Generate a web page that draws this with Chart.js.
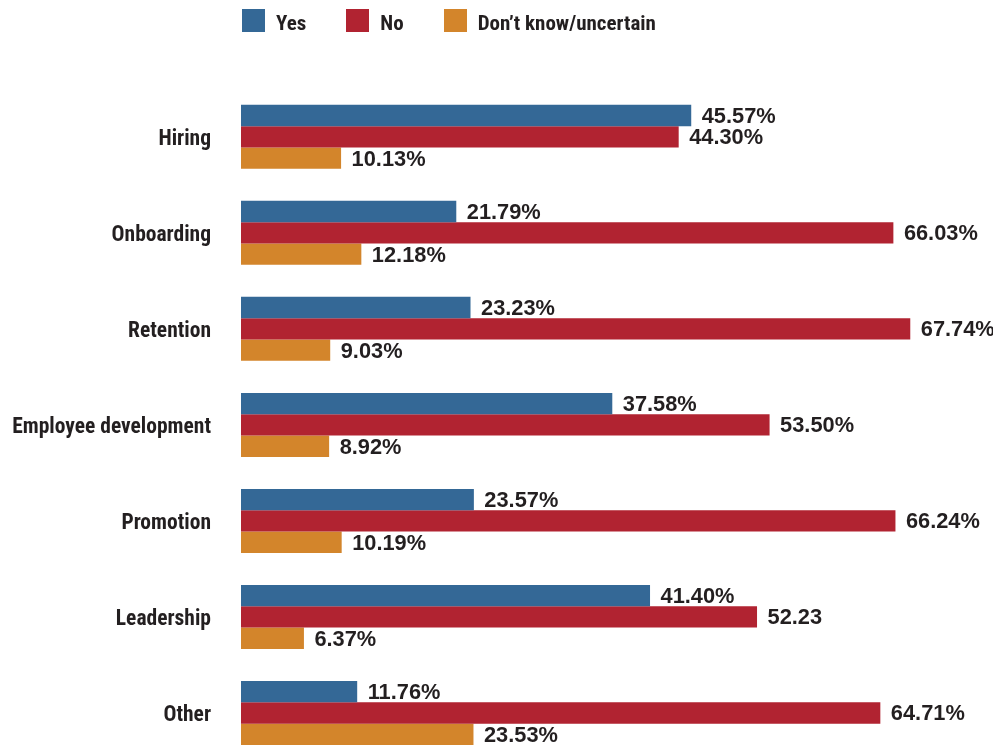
<!DOCTYPE html>
<html>
<head>
<meta charset="utf-8">
<script src="https://cdn.jsdelivr.net/npm/chart.js@4.4.0/dist/chart.umd.min.js"></script>
<style>
  html, body { margin: 0; padding: 0; background: #ffffff; overflow: hidden; width: 993px; height: 745px; }
  #wrap { position: relative; width: 993px; height: 745px; overflow: hidden; }
  #legend { position: absolute; left: 242px; top: 9px; display: flex; align-items: flex-start;
    font-family: 'Roboto Condensed', 'Roboto', sans-serif; font-weight: bold;
    font-size: 21px; color: #231f20; line-height: 1; }
  .item { display: flex; align-items: flex-end; margin-right: 40px; }
  .box { width: 23px; height: 23px; margin-right: 11px; }
  .lbl { position: relative; top: 2px; white-space: nowrap; }
  canvas { position: absolute; left: 0; top: 0; }
</style>
</head>
<body>
<div id="wrap">
  <canvas id="c" width="993" height="761"></canvas>
  <div id="legend"></div>
</div>
<script>
const categories = ['Hiring', 'Onboarding', 'Retention', 'Employee development', 'Promotion', 'Leadership', 'Other'];
const seriesNames = ['Yes', 'No', 'Don\u2019t know/uncertain'];
const yesValues = [45.57, 21.79, 23.23, 37.58, 23.57, 41.40, 11.76];
const noValues = [44.30, 66.03, 67.74, 53.50, 66.24, 52.23, 64.71];
const dkValues = [10.13, 12.18, 9.03, 8.92, 10.19, 6.37, 23.53];
const yesLabels = ['45.57%', '21.79%', '23.23%', '37.58%', '23.57%', '41.40%', '11.76%'];
const noLabels = ['44.30%', '66.03%', '67.74%', '53.50%', '66.24%', '52.23', '64.71%'];
const dkLabels = ['10.13%', '12.18%', '9.03%', '8.92%', '10.19%', '6.37%', '23.53%'];
const colors = ['#346896', '#b12331', '#d3852b'];

const condensed = "'Roboto Condensed', 'Roboto', sans-serif";
const textColor = '#231f20';

const valueLabelPlugin = {
  id: 'valueLabels',
  afterDatasetsDraw(chart) {
    const ctx = chart.ctx;
    ctx.save();
    ctx.font = "bold 21.8px 'Liberation Sans', Arial, sans-serif";
    ctx.fillStyle = textColor;
    ctx.textAlign = 'left';
    ctx.textBaseline = 'middle';
    chart.data.datasets.forEach((ds, di) => {
      const meta = chart.getDatasetMeta(di);
      meta.data.forEach((el, i) => {
        ctx.fillText(ds.valueLabels[i], el.x + 10.5, el.y + 1.5);
      });
    });
    ctx.restore();
  }
};

const chart = new Chart(document.getElementById('c'), {
  type: 'bar',
  data: {
    labels: categories,
    datasets: [
      { label: seriesNames[0], data: yesValues, valueLabels: yesLabels, backgroundColor: colors[0] },
      { label: seriesNames[1], data: noValues, valueLabels: noLabels, backgroundColor: colors[1] },
      { label: seriesNames[2], data: dkValues, valueLabels: dkLabels, backgroundColor: colors[2] }
    ]
  },
  options: {
    indexAxis: 'y',
    responsive: false,
    devicePixelRatio: 1,
    animation: false,
    datasets: { bar: { categoryPercentage: 0.6665, barPercentage: 1, borderWidth: 0 } },
    layout: { padding: { top: 88.8, right: 11, bottom: 0, left: 0 } },
    plugins: { legend: { display: false }, tooltip: { enabled: false } },
    scales: {
      x: { display: false, min: 0, max: 75 },
      y: {
        grid: { display: false, drawTicks: false },
        border: { display: false },
        ticks: { padding: 30, labelOffset: 3, color: textColor, font: { family: condensed, weight: 'bold', size: 21.5 } },
        afterFit(scale) { scale.width = 241; scale.paddingTop = 0; scale.paddingBottom = 0; }
      }
    }
  },
  plugins: [valueLabelPlugin]
});

const legendEl = document.getElementById('legend');
chart.data.datasets.forEach(ds => {
  const item = document.createElement('div');
  item.className = 'item';
  const box = document.createElement('div');
  box.className = 'box';
  box.style.background = ds.backgroundColor;
  const lbl = document.createElement('span');
  lbl.className = 'lbl';
  lbl.textContent = ds.label;
  item.appendChild(box);
  item.appendChild(lbl);
  legendEl.appendChild(item);
});
</script>
</body>
</html>
